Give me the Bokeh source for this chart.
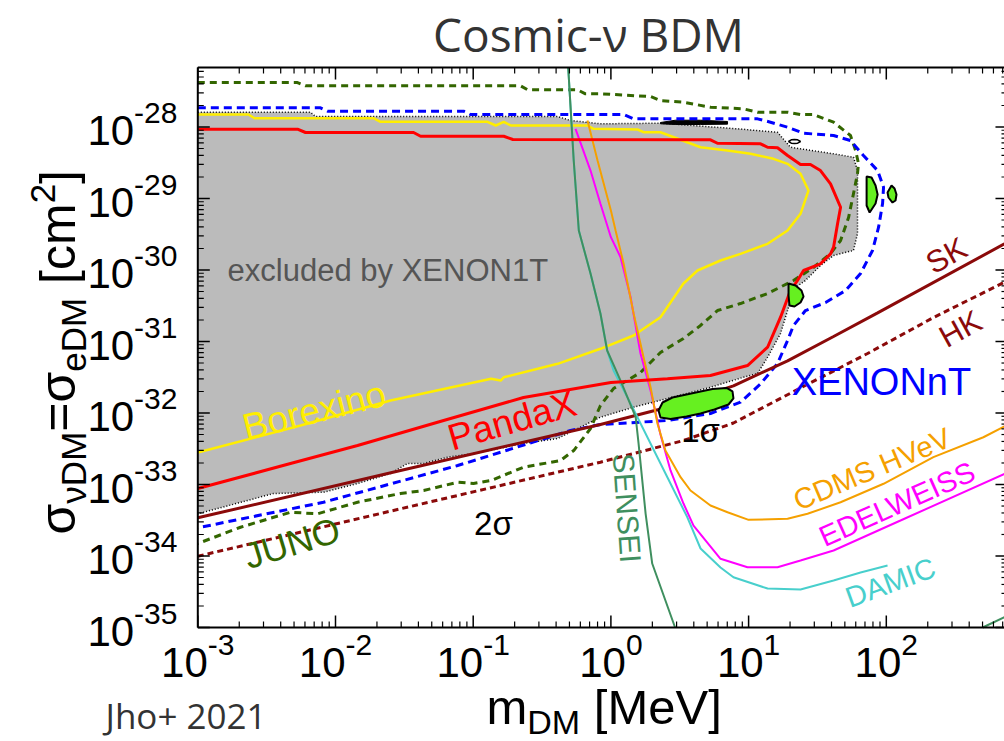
import math
from bokeh.plotting import figure
from bokeh.models import Range1d
from bokeh.core.properties import value
from bokeh.embed import file_html
from bokeh.resources import INLINE

# All curves are given as log10(m_DM / MeV) and log10(sigma / cm^2).

# XENON1T excluded region (closed contour)
xenon1t_logm = [-3.0, -2.182, -2.145, -0.387, -0.293, -0.076, 0.36, 0.919, 1.21, 1.304, 1.617, 1.762,
                1.791, 1.791, 1.762, 1.617, 1.522, 1.413, 1.341, 1.29, 1.232, 1.138, 1.065, 0.963,
                0.723, 0.411, 0.165, -0.076, -0.387, -0.635, -0.998, -1.186, -1.36, -1.477, -1.60,
                -1.84, -2.087, -2.45, -3.0]
xenon1t_logs = [-27.793, -27.793, -27.853, -27.853, -27.909, -27.955, -27.947, -28.025, -28.073,
                -28.283, -28.375, -28.423, -28.609, -29.49, -29.727, -29.797, -29.937, -30.147,
                -30.245, -30.521, -30.888, -31.22, -31.448, -31.5, -31.64, -31.797, -31.919,
                -32.059, -32.357, -32.427, -32.567, -32.618, -32.707, -32.707, -32.846, -32.986,
                -33.108, -33.126, -33.41]

# small black features on the XENON1T contour
speck_logm = [0.36, 0.469, 0.651, 0.847, 0.847, 0.651, 0.469, 0.36]
speck_logs = [-27.937, -27.905, -27.905, -27.923, -27.96, -27.965, -27.965, -27.955]
ring_logm = [1.29, 1.31, 1.333, 1.356, 1.377, 1.356, 1.333, 1.31]
ring_logs = [-28.203, -28.18, -28.175, -28.18, -28.203, -28.226, -28.231, -28.226]

# Borexino
borexino_logm = [-3.0, -2.632, -2.588, -1.724, -1.673, -0.896, -0.836, -0.778, -0.727, -0.17, -0.126,
                 0.194, 0.237, 0.36, 0.651, 0.847, 1.014, 1.181, 1.283, 1.377, 1.435, 1.377, 1.283,
                 1.138, 0.941, 0.796, 0.629, 0.527, 0.36, 0.165, -0.076, -0.387, -0.778, -0.80,
                 -0.87, -1.60, -2.254, -3.0]
borexino_logs = [-27.825, -27.825, -27.877, -27.877, -27.927, -27.927, -27.979, -27.927, -27.979,
                 -27.979, -28.025, -28.035, -28.073, -28.073, -28.283, -28.329, -28.375, -28.445,
                 -28.515, -28.655, -28.888, -29.214, -29.448, -29.634, -29.774, -29.867, -30.007,
                 -30.189, -30.66, -30.916, -31.102, -31.312, -31.5, -31.546, -31.522, -31.825,
                 -32.175, -32.553]

# PandaX
pandax_logm = [-3.0, -2.276, -2.218, -1.433, -1.382, -0.778, -0.712, 0.723, 0.774, 1.087, 1.138, 1.21,
               1.283, 1.377, 1.449, 1.522, 1.595, 1.668, 1.646, 1.617, 1.595, 1.522, 1.399, 1.355,
               1.304, 1.232, 1.138, 0.992, 0.723, 0.411, 0.0, -0.635, -1.215, -1.84, -2.327, -3.0]
pandax_logs = [-28.031, -28.031, -28.077, -28.077, -28.129, -28.129, -28.175, -28.179, -28.227,
               -28.235, -28.283, -28.291, -28.399, -28.525, -28.525, -28.609, -28.795, -29.122,
               -29.354, -29.681, -29.774, -29.913, -30.007, -30.147, -30.287, -30.66, -31.08,
               -31.336, -31.476, -31.522, -31.574, -31.783, -32.105, -32.455, -32.707, -33.056]

# JUNO projection
juno_logm = [-3.0, -2.276, -2.218, -0.656, -0.605, -0.242, -0.185, -0.076, 0.288, 0.36, 0.527, 0.723,
             0.963, 1.065, 1.283, 1.377, 1.471, 1.617, 1.74, 1.777, 1.798, 1.791, 1.762, 1.726, 1.668,
             1.595, 1.471, 1.326, 1.138, 0.941, 0.774, 0.651, 0.527, 0.36, 0.215, 0.019, -0.076,
             -0.148, -0.27, -0.366, -0.635, -0.87, -0.998, -1.113, -1.36, -1.528, -1.84, -2.131,
             -2.327, -2.69, -3.0]
juno_logs = [-27.378, -27.378, -27.424, -27.424, -27.48, -27.48, -27.536, -27.536, -27.574, -27.63,
             -27.653, -27.723, -27.746, -27.793, -27.793, -27.825, -27.825, -27.933, -28.119,
             -28.329, -28.511, -28.651, -28.93, -29.266, -29.587, -29.769, -29.965, -30.147,
             -30.329, -30.469, -30.567, -30.776, -30.958, -31.154, -31.434, -31.658, -31.895,
             -32.217, -32.525, -32.665, -32.758, -32.944, -32.986, -32.968, -33.084, -33.126,
             -33.248, -33.41, -33.388, -33.598, -33.826]

# XENONnT projection
xenonnt_logm = [-3.0, -2.109, -2.058, -1.07, -1.02, 0.092, 0.165, 1.065, 1.159, 1.283, 1.399, 1.617,
                1.74, 1.834, 1.937, 1.98, 1.973, 1.944, 1.90, 1.813, 1.704, 1.559, 1.413, 1.326,
                1.283, 1.21, 1.087, 0.941, 0.723, 0.411, -0.076, -0.293, -1.113, -2.087, -3.0]
xenonnt_logs = [-27.732, -27.732, -27.779, -27.779, -27.825, -27.825, -27.886, -27.886, -27.933,
                -28.003, -28.087, -28.119, -28.189, -28.399, -28.609, -28.842, -29.07, -29.402,
                -29.727, -30.049, -30.287, -30.455, -30.567, -30.776, -30.986, -31.308, -31.592,
                -31.849, -32.007, -32.105, -32.161, -32.245, -32.735, -33.248, -33.606]

# Super-Kamiokande and Hyper-Kamiokande
sk_logm = [-3.0, -1.528, -0.076, 0.411, 0.89, 1.283, 1.617, 1.937, 2.858]
sk_logs = [-33.466, -32.804, -32.161, -31.919, -31.62, -31.27, -30.93, -30.6, -29.634]
hk_logm = [-3.0, -1.528, -0.076, 0.527, 0.89, 1.377, 1.864, 2.342, 2.858]
hk_logs = [-34.003, -33.34, -32.688, -32.385, -32.14, -31.65, -31.168, -30.665, -30.171]

# direct-detection limits
sensei_logm = [-0.31, -0.27, -0.233, -0.148, -0.076, -0.027, 0.07, 0.18, 0.201, 0.252, 0.30, 0.466]
sensei_logs = [-27.168, -28.469, -29.448, -30.049, -30.609, -31.126, -31.546, -32.059, -32.427,
               -33.406, -34.105, -35.0]
sensei_tail_logm = [2.70, 2.858]
sensei_tail_logs = [-35.0, -34.856]
damic_logm = [-0.31, -0.27, -0.233, -0.148, -0.076, -0.027, 0.019, 0.143, 0.266, 0.411, 0.556,
              0.651, 0.796, 0.89, 1.138, 1.377, 1.617, 1.813, 2.009]
damic_logs = [-27.168, -28.469, -29.448, -30.049, -30.609, -31.126, -31.406, -31.867, -32.343,
              -32.902, -33.462, -33.895, -34.161, -34.297, -34.455, -34.469, -34.343, -34.231,
              -34.133]
edelweiss_logm = [-0.257, -0.148, -0.076, 0.0, 0.07, 0.143, 0.215, 0.288, 0.36, 0.433, 0.527, 0.60,
                  0.796, 0.992, 1.21, 1.377, 1.617, 2.103, 2.858]
edelweiss_logs = [-28.025, -28.609, -29.074, -29.541, -29.821, -30.381, -31.168, -31.686, -32.301,
                  -32.804, -33.266, -33.574, -34.039, -34.157, -34.157, -34.063, -33.923, -33.504,
                  -32.851]
cdms_logm = [-0.17, -0.097, 0.0, 0.034, 0.092, 0.165, 0.237, 0.288, 0.338, 0.396, 0.506, 0.578, 0.723,
             0.847, 1.0, 1.283, 1.428, 1.668, 1.98, 2.342, 2.705, 2.858]
cdms_logs = [-27.909, -28.469, -29.168, -29.448, -29.909, -30.609, -31.22, -31.64, -32.147, -32.525,
             -32.898, -33.084, -33.294, -33.388, -33.494, -33.48, -33.41, -33.248, -32.99, -32.618,
             -32.339, -32.189]

# 1 sigma preferred islands
island_a_logm = [0.346, 0.375, 0.447, 0.549, 0.651, 0.738, 0.84, 0.883, 0.89, 0.854, 0.752, 0.651,
                 0.549, 0.433, 0.36]
island_a_logs = [-31.965, -31.853, -31.783, -31.741, -31.699, -31.664, -31.65, -31.699, -31.797,
                 -31.881, -31.951, -32.007, -32.049, -32.084, -32.063]
island_b_logm = [1.29, 1.341, 1.384, 1.399, 1.377, 1.333, 1.297, 1.29]
island_b_logs = [-30.189, -30.217, -30.287, -30.371, -30.455, -30.511, -30.497, -30.357]
island_c_logm = [1.857, 1.893, 1.922, 1.937, 1.922, 1.879, 1.857, 1.857]
island_c_logs = [-28.693, -28.707, -28.818, -28.944, -29.07, -29.196, -29.098, -28.888]
island_d_logm = [2.009, 2.038, 2.06, 2.074, 2.067, 2.045, 2.016]
island_d_logs = [-28.916, -28.818, -28.86, -28.944, -29.028, -29.056, -28.986]

# axis decades
x_tick_exponents = [-3, -2, -1, 0, 1, 2]
y_tick_exponents = [-35, -34, -33, -32, -31, -30, -29, -28]


def lin(vals):
    return [10.0 ** v for v in vals]


# plot box in log10 units and its pixel scale
FX0, FX1 = -3.0, 2.880          # left / right edge of the box (right edge lies just past the page)
FY0, FY1 = -35.0, -27.168       # bottom / top edge of the box
W, H = 1004, 741
BOX_LEFT, BOX_BOTTOM = 197.3, 627.0
PXX, PXY = 137.7, 71.5          # pixels per decade


def gx(px):
    """log10 mass at a horizontal page position"""
    return FX0 + (px - BOX_LEFT) / PXX


def gy(py):
    """log10 cross section at a vertical page position (measured from the top)"""
    return FY0 + (BOX_BOTTOM - py) / PXY


p = figure(width=W, height=H, x_axis_type="log", y_axis_type="log",
           x_range=Range1d(10 ** gx(0), 10 ** gx(W)), y_range=Range1d(10 ** gy(H), 10 ** gy(0)),
           output_backend="svg", toolbar_location=None,
           min_border_left=0, min_border_right=0, min_border_top=0, min_border_bottom=0,
           x_axis_location=None, y_axis_location=None)
p.outline_line_color = None
p.xgrid.visible = False
p.ygrid.visible = False
p.background_fill_color = "white"
p.border_fill_color = "white"

FONT = "Liberation Sans"
# distance from the middle of the line box to the baseline, in em
MID_DROP = {"Liberation Sans": 0.3465, "Open Sans": 0.388}

# ---- XENON1T excluded region ----
p.patch(lin(xenon1t_logm), lin(xenon1t_logs), fill_color="#bbbbbb", line_color=None)
p.line(lin(xenon1t_logm), lin(xenon1t_logs), line_color="black", line_width=1.5, line_dash="1 2")
p.patch(lin(speck_logm), lin(speck_logs), fill_color="black", line_color="black", line_width=1)
p.patch(lin(ring_logm), lin(ring_logs), fill_color="white", line_color="black", line_width=1.5)

# ---- projections and limits ----
p.line(lin(juno_logm), lin(juno_logs), line_color="#336600", line_width=3, line_dash="7 5")
p.line(lin(xenonnt_logm), lin(xenonnt_logs), line_color="#0000ff", line_width=3, line_dash="8 5")
p.line(lin(hk_logm), lin(hk_logs), line_color="#8b0a0a", line_width=3, line_dash="6 4")
p.line(lin(sk_logm), lin(sk_logs), line_color="#8b0a0a", line_width=3)
p.line(lin(borexino_logm), lin(borexino_logs), line_color="#ffee00", line_width=2.5)
p.line(lin(damic_logm), lin(damic_logs), line_color="#48cfcc", line_width=2)
p.line(lin(sensei_logm), lin(sensei_logs), line_color="#3f8f5f", line_width=2)
p.line(lin(sensei_tail_logm), lin(sensei_tail_logs), line_color="#3f8f5f", line_width=2)
p.line(lin(edelweiss_logm), lin(edelweiss_logs), line_color="#ff00ff", line_width=2)
p.line(lin(cdms_logm), lin(cdms_logs), line_color="#f5a000", line_width=2)
p.line(lin(pandax_logm), lin(pandax_logs), line_color="#ff0000", line_width=3)


def tag(lx, ly, text, color, size, angle=0.0, align="center", font=FONT):
    """text centred vertically on (lx, ly)"""
    p.text(x=[10.0 ** lx], y=[10.0 ** ly], text=[text], angle=angle,
           text_font=value(font), text_font_size=f"{size}px", text_color=color,
           text_align=align, text_baseline="middle")


def on_baseline(px, py, text, size, color="black", align="left", font=FONT):
    """horizontal text whose baseline sits at page position py"""
    tag(gx(px), gy(py - MID_DROP[font] * size), text, color, size, align=align, font=font)


def upwards(base_px, start_py, text, size, color="black", font=FONT):
    """text reading bottom-to-top, baseline at page column base_px, starting at start_py"""
    tag(gx(base_px - MID_DROP[font] * size), gy(start_py), text, color, size, angle=math.pi / 2,
        align="left", font=font)


tag(0.651, -32.245, "1σ", "black", 33)

# ---- 1 sigma islands ----
for lm, ls in [(island_a_logm, island_a_logs), (island_b_logm, island_b_logs),
               (island_c_logm, island_c_logs), (island_d_logm, island_d_logs)]:
    p.patch(lin(lm), lin(ls), fill_color="#66f020", line_color="black", line_width=2)

# ---- curve labels ----
tag(-1.62, -30.007, "excluded by XENON1T", "#555555", 31)
tag(-2.155, -31.965, "Borexino", "#ffee00", 37, 0.244)
tag(-0.718, -32.105, "PandaX", "#ff0000", 37, 0.279)
tag(-2.316, -33.818, "JUNO", "#336600", 36, 0.297)
tag(-0.853, -33.546, "2σ", "black", 33)
tag(0.117, -33.329, "SENSEI", "#3f8f5f", 30, -1.50)
tag(1.896, -32.784, "CDMS HVeV", "#f5a000", 29, 0.401)
tag(2.078, -33.273, "EDELWEISS", "#ff00ff", 29, 0.419)
tag(2.03, -34.371, "DAMIC", "#48cfcc", 29, 0.349)
tag(2.437, -29.797, "SK", "#8b0a0a", 31, 0.506)
tag(2.539, -30.825, "HK", "#8b0a0a", 31, 0.506)
tag(1.965, -31.56, "XENONnT", "#0000ff", 38)

# ---- box with inward ticks ----
x_major = [float(k) for k in range(-3, 3)]
x_minor = [k + math.log10(m) for k in range(-3, 3) for m in range(2, 10)]
x_minor = [v for v in x_minor if v < gx(W)]
y_major = [float(k) for k in range(-35, -27)]
y_minor = [k + math.log10(m) for k in range(-35, -27) for m in range(2, 10)]
y_minor = [v for v in y_minor if v < FY1]

MAJ, MIN = 12.0, 6.0
x0s, y0s, x1s, y1s, ws = [], [], [], [], []
for ticks, length, width in [(x_major, MAJ, 1.5), (x_minor, MIN, 1.2)]:
    for t in ticks:
        # bottom and top edges
        x0s += [t, t]
        x1s += [t, t]
        y0s += [FY0, FY1]
        y1s += [FY0 + length / PXY, FY1 - length / PXY]
        ws += [width, width]
for ticks, length, width in [(y_major, MAJ, 1.5), (y_minor, MIN, 1.2)]:
    for t in ticks:
        # left and right edges
        x0s += [FX0, FX1]
        x1s += [FX0 + length / PXX, FX1 - length / PXX]
        y0s += [t, t]
        y1s += [t, t]
        ws += [width, width]
p.segment(x0=lin(x0s), y0=lin(y0s), x1=lin(x1s), y1=lin(y1s), line_color="black", line_width=ws)

p.line(lin([FX0, FX0]), lin([FY0, FY1]), line_color="black", line_width=2)
p.line(lin([FX0, FX1]), lin([FY0, FY0]), line_color="black", line_width=2)
p.line(lin([FX0, FX1]), lin([FY1, FY1]), line_color="black", line_width=2)

# ---- decade labels, 10 with a raised exponent ----
BASE_PX, EXP_PX = 42, 30
W_BASE = BASE_PX * 1.112
for e in x_tick_exponents:
    s = str(e)
    w_exp = EXP_PX * (0.556 * len(s.lstrip("-")) + (0.333 if e < 0 else 0.0))
    tick_px = BOX_LEFT + (e - FX0) * PXX
    left = tick_px - (W_BASE + w_exp) / 2.0
    on_baseline(left, BOX_BOTTOM + 49.7, "10", BASE_PX)
    on_baseline(left + W_BASE, BOX_BOTTOM + 28.0, s, EXP_PX)

for e in y_tick_exponents:
    tick_py = BOX_BOTTOM - (e - FY0) * PXY
    on_baseline(133.6, tick_py + 18.4, "10", BASE_PX, align="right")
    on_baseline(133.6, tick_py - 3.3, str(e), EXP_PX)

# ---- x axis title: m_DM [MeV] ----
MAIN, SUB = 49, 34
SPACE = 0.278
x_title = 486.0
on_baseline(x_title, 723, "m", MAIN)
x_title += 0.833 * MAIN
on_baseline(x_title, 733, "DM", SUB)
x_title += 1.555 * SUB + SPACE * MAIN
on_baseline(x_title, 723, "[MeV]", MAIN)

# ---- y axis title: sigma_nuDM = sigma_eDM [cm^2], reading upwards ----
YMAIN, YSUB = 50, 35
pieces = [("σ", YMAIN, 0.617, 75), ("νDM", YSUB, 2.055, 85), ("=σ", YMAIN, 1.201, 75),
          ("eDM", YSUB, 2.111 + SPACE * YMAIN / YSUB, 85), ("[cm", YMAIN, 1.611, 75),
          ("2", YSUB, 0.556, 55), ("]", YMAIN, 0.278, 75)]
run = 534.0
for txt, size, em, base_x in pieces:
    upwards(base_x, run, txt, size)
    run -= em * size

# ---- title and credit ----
on_baseline(588, 51, "Cosmic-ν BDM", 46, color="#333333", align="center", font="Open Sans")
on_baseline(105, 729, "Jho+ 2021", 35, color="#333333", font="Open Sans")

open("out.html", "w").write(file_html(p, INLINE))
